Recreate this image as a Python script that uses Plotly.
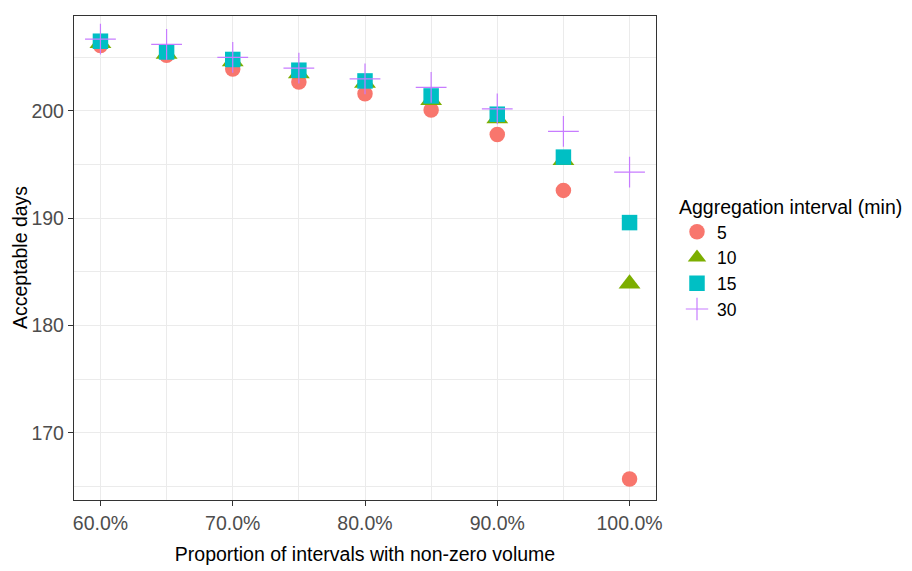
import plotly.graph_objects as go

# Proportion of intervals with non-zero volume (fraction)
proportion = [0.60, 0.65, 0.70, 0.75, 0.80, 0.85, 0.90, 0.95, 1.00]

# Acceptable days per aggregation interval (minutes)
days_5 = [206.1, 205.2, 203.9, 202.7, 201.6, 200.1, 197.8, 192.6, 165.7]
days_10 = [206.3, 205.3, 204.6, 203.5, 202.6, 201.0, 199.3, 195.4, 183.9]
days_15 = [206.5, 205.5, 204.8, 203.8, 202.8, 201.4, 199.7, 195.7, 189.6]
days_30 = [206.7, 206.2, 205.0, 204.0, 203.0, 202.2, 200.2, 198.1, 194.3]

interval_labels = ["5", "10", "15", "30"]
x_ticks = [0.6, 0.7, 0.8, 0.9, 1.0]
y_ticks = [170, 180, 190, 200]

series = [
    (days_5, "circle", "#F8766D", 15.5),
    (days_10, "triangle-up", "#7CAE00", 19),
    (days_15, "square", "#00BFC4", 15.5),
    (days_30, "cross-thin", "#C77CFF", 22),
]

FONT = "Liberation Sans, Arial, sans-serif"

fig = go.Figure()
for label, (vals, sym, col, sz) in zip(interval_labels, series):
    marker = dict(symbol=sym, color=col, size=sz)
    if sym == "cross-thin":
        marker["line"] = dict(color=col, width=1.2)
    else:
        marker["line"] = dict(width=0)
    fig.add_trace(go.Scatter(
        x=proportion, y=vals, mode="markers", name=label, marker=marker,
    ))

axis_common = dict(
    showline=True, mirror=True, linecolor="#333333", linewidth=1.3,
    ticks="outside", ticklen=5, tickwidth=1.3, tickcolor="#333333",
    gridcolor="#EBEBEB", gridwidth=1.3, zeroline=False, automargin=False,
    tickfont=dict(family=FONT, size=19.5, color="#4D4D4D"),
)

fig.update_layout(
    width=912, height=571,
    margin=dict(l=74, r=256, t=16, b=71),
    paper_bgcolor="white", plot_bgcolor="white",
    font=dict(family=FONT, color="black"),
    xaxis=dict(
        range=[0.58, 1.02], tickvals=x_ticks, tickformat=".1%",
        minor=dict(dtick=0.05, tick0=0.55, showgrid=True, gridcolor="#EBEBEB",
                   gridwidth=0.7, ticks=""),
        title=dict(text="Proportion of intervals with non-zero volume",
                   font=dict(family=FONT, size=19.5, color="black"), standoff=14),
        **axis_common,
    ),
    yaxis=dict(
        range=[163.75, 208.85], tickvals=y_ticks,
        minor=dict(dtick=5, tick0=165, showgrid=True, gridcolor="#EBEBEB",
                   gridwidth=0.7, ticks=""),
        **axis_common,
    ),
    annotations=[dict(
        text="Acceptable days", textangle=-90, showarrow=False,
        xref="paper", yref="paper", x=-54 / 582, y=0.5,
        xanchor="center", yanchor="middle",
        font=dict(family=FONT, size=19.5, color="black"),
    )],
    legend=dict(
        title=dict(text="Aggregation interval (min)",
                   font=dict(family=FONT, size=19.5, color="black")),
        font=dict(family=FONT, size=17.5, color="black"),
        xref="container", yref="container",
        x=677 / 912, xanchor="left", y=1 - 258 / 571, yanchor="middle",
        bgcolor="rgba(0,0,0,0)", tracegroupgap=0,
    ),
    showlegend=True,
)

fig.write_html("out.html")
